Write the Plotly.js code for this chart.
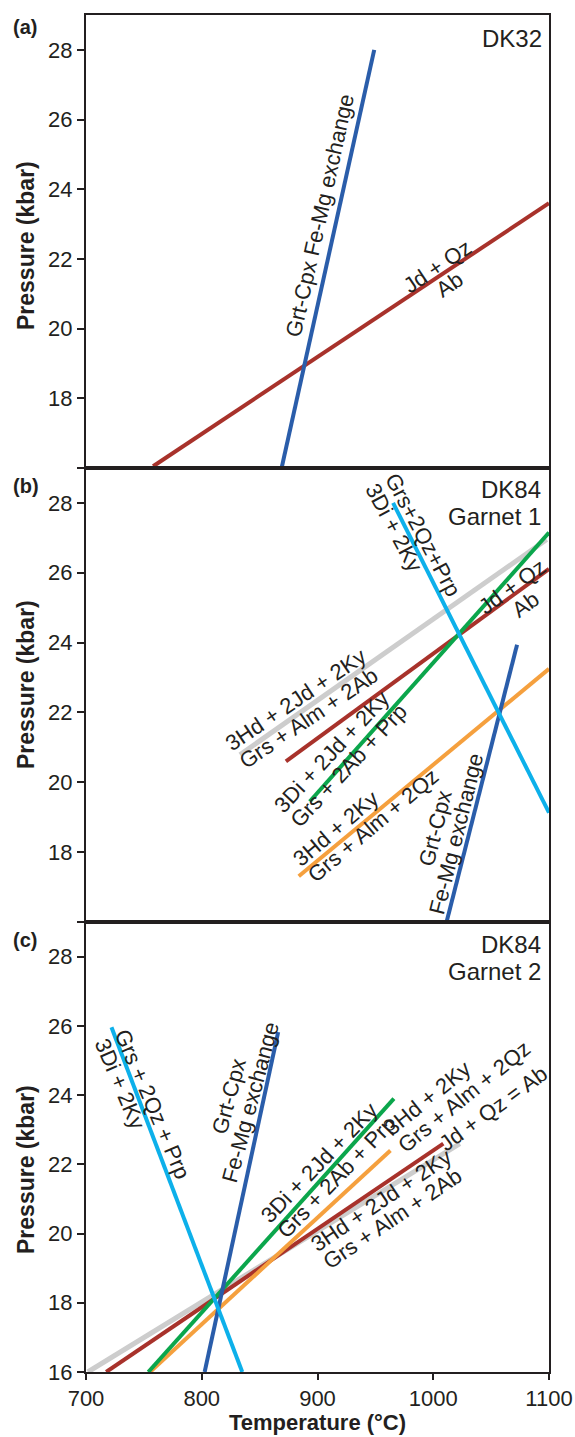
<!DOCTYPE html>
<html><head><meta charset="utf-8">
<script src="https://cdn.plot.ly/plotly-3.0.1.min.js"></script>
<style>body{margin:0;background:#fff}#chart{width:575px;height:1437px}</style>
</head><body><div id="chart"></div>
<script>
// ---- axes ----
const tempTicks = [700, 800, 900, 1000, 1100];
const presTicks = [16, 18, 20, 22, 24, 26, 28];
const presLabelsTop = ['', '18', '20', '22', '24', '26', '28'];
const presLabelsBottom = ['16', '18', '20', '22', '24', '26', '28'];

// ---- Panel (a) DK32 ----
const aFeMgT = [869, 949],   aFeMgP = [16, 28];
const aJdQzT = [758, 1100],  aJdQzP = [16.05, 23.6];

// ---- Panel (b) DK84 Garnet 1 ----
const bHdJdT = [833, 1098],  bHdJdP = [20.79, 26.95];   // 3Hd+2Jd+2Ky = Grs+Alm+2Ab
const bJdQzT = [872.7, 1100], bJdQzP = [20.6, 26.11];   // Jd+Qz = Ab
const bHdKyT = [883.8, 1100], bHdKyP = [17.31, 23.25];  // 3Hd+2Ky = Grs+Alm+2Qz
const bDiJdT = [893.3, 1100], bDiJdP = [19.45, 27.15];  // 3Di+2Jd+2Ky = Grs+2Ab+Prp
const bFeMgT = [1011.5, 1072.4], bFeMgP = [16, 23.94];  // Grt-Cpx Fe-Mg exchange
const bGrsDiT = [965.3, 1100], bGrsDiP = [28, 19.13];   // Grs+2Qz+Prp = 3Di+2Ky

// ---- Panel (c) DK84 Garnet 2 ----
const cHdJdT = [701.6, 1023], cHdJdP = [16, 22.6];
const cJdQzT = [717.4, 1008.7], cJdQzP = [16, 22.6];
const cHdKyT = [755.3, 963], cHdKyP = [16, 22.4];
const cDiJdT = [753.8, 966], cDiJdP = [16, 23.9];
const cFeMgT = [802.5, 866], cFeMgP = [16, 25.82];
const cGrsDiT = [722, 835], cGrsDiP = [25.96, 16];

const COL = {
  feMg: '#2a5daa', jdQz: '#a8322b', grsDi: '#0db0ea',
  diJd: '#0ba64c', hdKy: '#f5a03e', hdJd: '#cdcdcd'
};
const FONT = "'Liberation Sans', Arial, Helvetica, sans-serif";
const INK = '#231f20';

function ln(x, y, color, w, ax) {
  return {x: x, y: y, type: 'scatter', mode: 'lines', xaxis: ax[0], yaxis: ax[1],
          line: {color: color, width: w}, hoverinfo: 'skip', showlegend: false};
}
const A = ['x', 'y'], B = ['x2', 'y2'], C = ['x3', 'y3'];
const traces = [
  ln(aJdQzT, aJdQzP, COL.jdQz, 4, A),
  ln(aFeMgT, aFeMgP, COL.feMg, 4, A),

  ln(bHdJdT, bHdJdP, COL.hdJd, 5, B),
  ln(bJdQzT, bJdQzP, COL.jdQz, 4, B),
  ln(bHdKyT, bHdKyP, COL.hdKy, 4, B),
  ln(bDiJdT, bDiJdP, COL.diJd, 4, B),
  ln(bFeMgT, bFeMgP, COL.feMg, 4, B),
  ln(bGrsDiT, bGrsDiP, COL.grsDi, 4, B),

  ln(cHdJdT, cHdJdP, COL.hdJd, 5, C),
  ln(cJdQzT, cJdQzP, COL.jdQz, 4, C),
  ln(cHdKyT, cHdKyP, COL.hdKy, 4, C),
  ln(cDiJdT, cDiJdP, COL.diJd, 4, C),
  ln(cFeMgT, cFeMgP, COL.feMg, 4, C),
  ln(cGrsDiT, cGrsDiP, COL.grsDi, 4, C)
];

// ---- reaction labels ----
const LABELS = [
  {ax: A, x: 901.7, y: 23.26, a: -77.5, lines: ['Grt-Cpx Fe-Mg exchange'], align: 'center'},
  {ax: A, x: 1008.8, y: 21.53, a: -34, lines: ['Jd + Qz', 'Ab'], align: 'center'},

  {ax: B, x: 982.4, y: 26.94, a: 62, lines: ['Grs+2Qz+Prp', '3Di + 2Ky'], align: 'left'},
  {ax: B, x: 1074, y: 25.35, a: -36, lines: ['Jd + Qz', 'Ab'], align: 'center'},
  {ax: B, x: 887, y: 22.1, a: -34, lines: ['3Hd + 2Jd + 2Ky', 'Grs + Alm + 2Ab'], align: 'left'},
  {ax: B, x: 920, y: 20.7, a: -47, lines: ['3Di + 2Jd + 2Ky', 'Grs + 2Ab + Prp'], align: 'left'},
  {ax: B, x: 942, y: 19.0, a: -40, lines: ['3Hd + 2Ky', 'Grs + Alm + 2Qz'], align: 'left'},
  {ax: B, x: 1011, y: 18.6, a: -76, lines: ['Grt-Cpx', 'Fe-Mg exchange'], align: 'center'},

  {ax: C, x: 748.7, y: 23.6, a: 67, lines: ['Grs + 2Qz + Prp', '3Di + 2Ky'], align: 'left'},
  {ax: C, x: 832.8, y: 23.87, a: -75, lines: ['Grt-Cpx', 'Fe-Mg exchange'], align: 'center'},
  {ax: C, x: 909.3, y: 21.85, a: -46, lines: ['3Di + 2Jd + 2Ky', 'Grs + 2Ab + Prp'], align: 'left'},
  {ax: C, x: 1021.1, y: 24.2, a: -39, lines: ['3Hd + 2Ky', 'Grs + Alm + 2Qz'], align: 'left'},
  {ax: C, x: 1052, y: 23.6, a: -36, lines: ['Jd + Qz = Ab'], align: 'center'},
  {ax: C, x: 960.2, y: 20.7, a: -34, lines: ['3Hd + 2Jd + 2Ky', 'Grs + Alm + 2Ab'], align: 'left'}
];
const LABEL_SIZE = 22, LINE_GAP = 22;

const cvs = document.createElement('canvas').getContext('2d');
cvs.font = LABEL_SIZE + 'px ' + FONT;
const annotations = [];
LABELS.forEach(L => {
  const r = L.a * Math.PI / 180;
  const ux = Math.cos(r), uy = Math.sin(r);
  const vx = -Math.sin(r), vy = Math.cos(r);
  const ws = L.lines.map(t => cvs.measureText(t).width);
  const wmax = Math.max.apply(null, ws);
  const n = L.lines.length;
  L.lines.forEach((t, i) => {
    const off = (i - (n - 1) / 2) * LINE_GAP;
    const s = L.align === 'left' ? (ws[i] - wmax) / 2 : 0;
    const dx = ux * s + vx * off, dy = uy * s + vy * off;
    annotations.push({
      xref: L.ax[0], yref: L.ax[1], x: L.x, y: L.y, text: t, showarrow: false,
      textangle: L.a, xanchor: 'center', yanchor: 'middle',
      xshift: dx, yshift: -dy, font: {family: FONT, size: LABEL_SIZE, color: INK}
    });
  });
});

function paperText(x, y, t, size, opts) {
  return Object.assign({xref: 'paper', yref: 'paper', x: x, y: y, text: t, showarrow: false,
    xanchor: 'center', yanchor: 'middle', font: {family: FONT, size: size, color: INK}}, opts || {});
}
annotations.push(
  paperText(0.9892, 0.983, 'DK32', 24, {xanchor: 'right'}),
  paperText(0.986, 0.6507, 'DK84', 24, {xanchor: 'right'}),
  paperText(0.986, 0.6301, 'Garnet 1', 24, {xanchor: 'right'}),
  paperText(0.986, 0.3154, 'DK84', 24, {xanchor: 'right'}),
  paperText(0.986, 0.2955, 'Garnet 2', 24, {xanchor: 'right'}),
  paperText(-0.1328, 0.991, '<b>(a)</b>', 20),
  paperText(-0.1306, 0.6529, '<b>(b)</b>', 20),
  paperText(-0.1317, 0.3183, '<b>(c)</b>', 20),
  paperText(-0.1296, 0.8305, '<b>Pressure (kbar)</b>', 23, {textangle: -90}),
  paperText(-0.1296, 0.507, '<b>Pressure (kbar)</b>', 23, {textangle: -90}),
  paperText(-0.1296, 0.1496, '<b>Pressure (kbar)</b>', 23, {textangle: -90}),
  paperText(0.499, -0.0475, '<b>Temperature (°C)</b>', 22, {yanchor: 'bottom', borderpad: 0})
);

function xAx(anchor, show) {
  const o = {domain: [0, 1], anchor: anchor, range: [700, 1100], showline: true, mirror: true,
    linewidth: 2, linecolor: INK, showgrid: false, zeroline: false, tickvals: tempTicks,
    ticks: show ? 'outside' : '', ticklen: 6, tickwidth: 2, tickcolor: INK,
    showticklabels: show, tickfont: {family: FONT, size: 22, color: INK}};
  if (anchor !== 'y3') o.matches = 'x3';
  return o;
}
function yAx(dom, labels) {
  return {domain: dom, range: [16, 29], showline: true, mirror: true, linewidth: 2, linecolor: INK,
    showgrid: false, zeroline: false, tickvals: presTicks, ticktext: labels, ticks: 'outside',
    ticklen: 7, tickwidth: 2, tickcolor: INK, tickfont: {family: FONT, size: 22, color: INK}};
}
const layout = {
  width: 575, height: 1437, margin: {l: 86, r: 26, t: 15, b: 65},
  paper_bgcolor: '#fff', plot_bgcolor: '#fff', showlegend: false,
  xaxis: xAx('y', false), xaxis2: xAx('y2', false), xaxis3: xAx('y3', true),
  yaxis: Object.assign(yAx([0.6662, 1], presLabelsTop), {anchor: 'x'}),
  yaxis2: Object.assign(yAx([0.3316, 0.6662], presLabelsTop), {anchor: 'x2'}),
  yaxis3: Object.assign(yAx([0, 0.3316], presLabelsBottom), {anchor: 'x3'}),
  annotations: annotations
};
Plotly.newPlot('chart', traces, layout, {staticPlot: true, displayModeBar: false});
</script></body></html>
